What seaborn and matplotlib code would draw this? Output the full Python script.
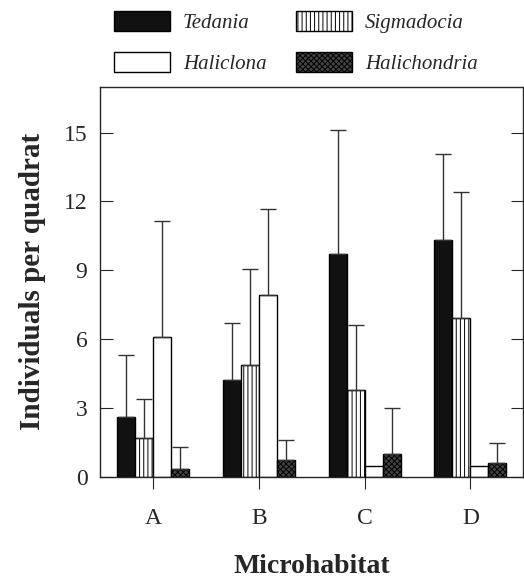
import pandas as pd
import seaborn as sns
import matplotlib.pyplot as plt
from matplotlib.patches import Patch

# Values
habitats = ['A', 'B', 'C', 'D']
species = ['Tedania', 'Sigmadocia', 'Haliclona', 'Halichondria']
tedania = [2.6, 4.2, 9.7, 10.3]
sigmadocia = [1.7, 4.85, 3.8, 6.9]
haliclona = [6.1, 7.9, 0.45, 0.45]
halichondria = [0.35, 0.75, 1.0, 0.6]
# upper end of each error bar
tedania_hi = [5.3, 6.7, 15.1, 14.05]
sigmadocia_hi = [3.4, 9.05, 6.6, 12.4]
haliclona_hi = [11.15, 11.65, 0.45, 0.45]
halichondria_hi = [1.3, 1.6, 3.0, 1.45]

means = [tedania, sigmadocia, haliclona, halichondria]
highs = [tedania_hi, sigmadocia_hi, haliclona_hi, halichondria_hi]

rows = []
for sp, m in zip(species, means):
    for h, v in zip(habitats, m):
        rows.append({'Microhabitat': h, 'species': sp, 'value': v})
df = pd.DataFrame(rows)

sns.set_style('ticks')
plt.rcParams['font.family'] = ['Liberation Serif', 'DejaVu Serif']
plt.rcParams['hatch.linewidth'] = 0.7

fig = plt.figure(figsize=(5.24, 5.81), dpi=100)
ax = fig.add_axes([0.1908, 0.1795, 0.808, 0.6713])

faces = ['#111111', 'white', 'white', '#444444']
hatches = [None, '||||', None, 'xxxxxx']
sns.barplot(data=df, x='Microhabitat', y='value', hue='species',
            palette=faces, edgecolor='black', linewidth=1,
            width=0.68, gap=0, legend=False, ax=ax)

# style bars and add one-sided error bars
bar_groups = list(ax.containers)
for i, cont in enumerate(bar_groups):
    for j, bar in enumerate(cont):
        if hatches[i]:
            bar.set_hatch(hatches[i])
        xc = bar.get_x() + bar.get_width() / 2
        top = bar.get_height()
        err = highs[i][j] - top
        if err > 0.05:
            ax.errorbar(xc, top, yerr=[[0], [err]], fmt='none',
                        ecolor='#333333', elinewidth=1, capsize=6,
                        capthick=1)

ax.set_ylim(0, 17)
ax.set_yticks([0, 3, 6, 9, 12, 15])
ax.set_xlim(-0.5, 3.5)
ax.tick_params(axis='y', direction='in', length=9, labelsize=17,
               right=True, left=True, pad=9)
ax.tick_params(axis='x', direction='out', length=8.5, labelsize=17, pad=14)
for s in ax.spines.values():
    s.set_visible(True)
    s.set_linewidth(1)
ax.set_ylabel('Individuals per quadrat', fontsize=21, fontweight='bold',
              labelpad=13)
ax.set_xlabel('Microhabitat', fontsize=20, fontweight='bold', labelpad=18)

# legend outside the plot, two rows
handles = [Patch(facecolor=f, edgecolor='black', hatch=h, label=s)
           for f, h, s in zip(faces, hatches, species)]
order = [0, 2, 1, 3]
fig.legend([handles[k] for k in order], [species[k] for k in order],
           loc='upper left', bbox_to_anchor=(0.205, 0.992), ncol=2,
           frameon=False, handlelength=2.7, handleheight=1.1,
           handletextpad=0.63, columnspacing=1.4, labelspacing=0.9,
           borderaxespad=0.0, borderpad=0.3,
           prop={'family': 'Liberation Serif', 'style': 'italic', 'size': 15})

plt.savefig('out.png', dpi=100)
